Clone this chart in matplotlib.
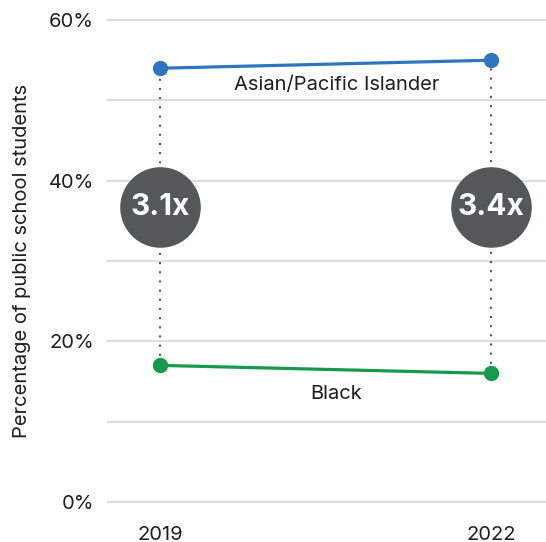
import matplotlib
matplotlib.use("Agg")

import matplotlib.pyplot as plt
from matplotlib.ticker import FuncFormatter

# ── 数据 ──
years = [2019, 2022]
asian = [54, 55]
black = [17, 16]
ratio_labels = ["3.1x", "3.4x"]
y_ticks = [0, 20, 40, 60]
grid_vals = [0, 10, 20, 30, 40, 50, 60]

plt.rcParams["font.family"] = ["Inter", "DejaVu Sans"]

BLUE = "#2E75BF"
GREEN = "#15994A"
DARK = "#555859"
GRID = "#DDDDDD"
TEXT = "#1E1E1E"

fig = plt.figure(figsize=(5.46, 5.42), dpi=100)
ax = fig.add_axes([0.198, 0.074, 0.802, 0.889])
ax.set_xlim(2018.53, 2022.5)
ax.set_ylim(0, 60)

for g in grid_vals:
    ax.axhline(g, color=GRID, linewidth=1.6, zorder=0, clip_on=False)

# 虚线连接
for i, yr in enumerate(years):
    ax.plot([yr, yr], [black[i], asian[i]], color=DARK, linewidth=1.5,
            linestyle=(0, (1, 3.4)), zorder=1)

ax.plot(years, asian, color=BLUE, linewidth=2.3, marker="o", markersize=10,
        zorder=3)
ax.plot(years, black, color=GREEN, linewidth=2.3, marker="o", markersize=10,
        zorder=3)

# 倍数圆圈
circle_y = 36.7
for yr, lbl in zip(years, ratio_labels):
    ax.plot(yr, circle_y, "o", color=DARK, markersize=57, zorder=4)
    ax.text(yr, circle_y, lbl, color="white", fontsize=21.5, fontweight="bold",
            ha="center", va="center", zorder=5)

mid_x = 2020.6
ax.annotate("Asian/Pacific Islander", xy=(mid_x, (asian[0] + asian[1]) / 2),
            xytext=(0, -15), textcoords="offset points",
            ha="center", va="center", fontsize=14.5, color=TEXT)
ax.annotate("Black", xy=(mid_x, (black[0] + black[1]) / 2),
            xytext=(0, -18), textcoords="offset points",
            ha="center", va="center", fontsize=14.5, color=TEXT)

ax.set_yticks(y_ticks)
ax.yaxis.set_major_formatter(FuncFormatter(lambda v, _: f"{v:.0f}%"))
ax.set_xticks(years)
ax.set_xticklabels([str(y) for y in years])
ax.tick_params(axis="y", length=0, pad=10, labelsize=14.5, labelcolor=TEXT)
ax.tick_params(axis="x", length=0, pad=17, labelsize=14.5, labelcolor=TEXT)
ax.set_ylabel("Percentage of public school students", fontsize=14.5,
              color=TEXT, labelpad=13)

for s in ax.spines.values():
    s.set_visible(False)

fig.savefig("out.png", dpi=100, facecolor="white")
